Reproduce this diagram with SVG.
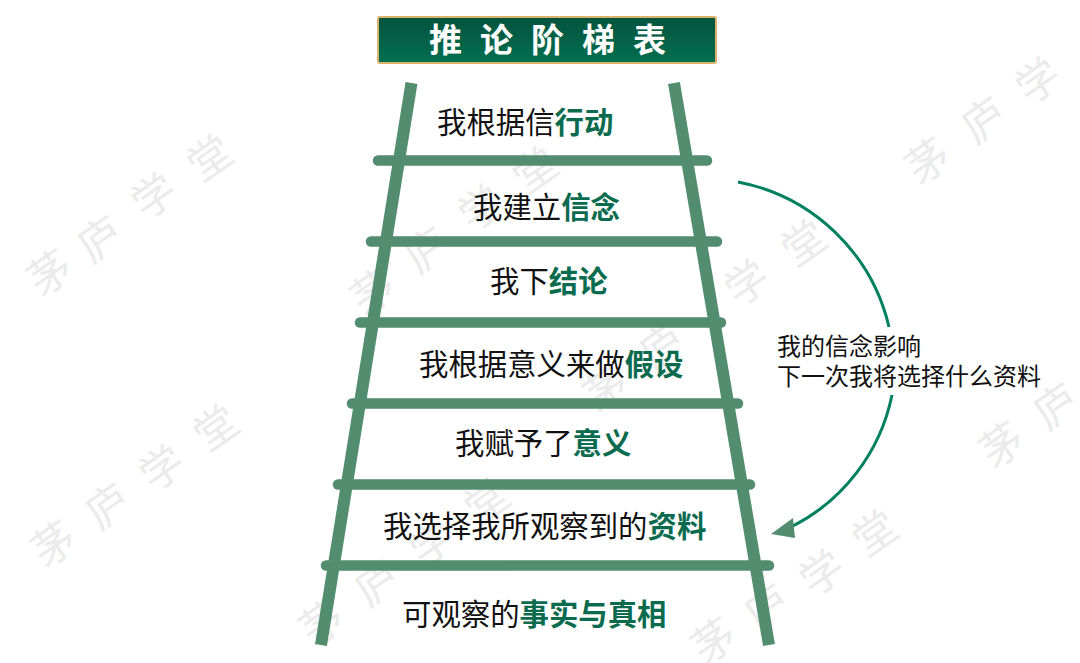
<svg xmlns="http://www.w3.org/2000/svg" width="1080" height="663" viewBox="0 0 1080 663">
<style>
text{font-family:"Noto Sans CJK SC","Noto Sans",sans-serif}
.wm{font-size:43px;fill:#ebebeb;font-weight:400;text-anchor:middle;dominant-baseline:central}
.rail{stroke:#538d6f;stroke-width:12;fill:none}
.rung{stroke:#538d6f;stroke-width:10.5;stroke-linecap:round;fill:none}
.lab{font-size:29.4px;fill:#111}
.em{font-weight:700;fill:#0b6b4f}
.note{font-size:24px;fill:#111}
.arc{stroke:#008060;stroke-width:3;fill:none}
</style>
<defs>
<linearGradient id="g" x1="0" y1="0" x2="0" y2="1"><stop offset="0" stop-color="#03533d"/><stop offset="1" stop-color="#046f50"/></linearGradient>
</defs>
<rect width="1080" height="663" fill="#fff"/>
<g id="watermark" transform="translate(-4,-2)">
<g id="wm1"><text class="wm" transform="translate(52,272) rotate(-35)">茅</text><text class="wm" transform="translate(102,238) rotate(-35)">庐</text><text class="wm" transform="translate(156,195) rotate(-35)">学</text><text class="wm" transform="translate(212,157) rotate(-35)">堂</text></g>
<g id="wm2"><text class="wm" transform="translate(375,291) rotate(-35)">茅</text><text class="wm" transform="translate(429,249) rotate(-35)">庐</text><text class="wm" transform="translate(483,207) rotate(-35)">学</text><text class="wm" transform="translate(537,169) rotate(-35)">堂</text></g>
<g id="wm3"><text class="wm" transform="translate(930,160) rotate(-35)">茅</text><text class="wm" transform="translate(986,119) rotate(-35)">庐</text><text class="wm" transform="translate(1040,80) rotate(-35)">学</text></g>
<g id="wm4"><text class="wm" transform="translate(608,388) rotate(-35)">茅</text><text class="wm" transform="translate(664,345) rotate(-35)">庐</text><text class="wm" transform="translate(749,282) rotate(-35)">学</text><text class="wm" transform="translate(806,242) rotate(-35)">堂</text></g>
<g id="wm5"><text class="wm" transform="translate(56,543) rotate(-35)">茅</text><text class="wm" transform="translate(110,505) rotate(-35)">庐</text><text class="wm" transform="translate(164,467) rotate(-35)">学</text><text class="wm" transform="translate(218,427) rotate(-35)">堂</text></g>
<g id="wm6"><text class="wm" transform="translate(324,622) rotate(-35)">茅</text><text class="wm" transform="translate(379,582) rotate(-35)">庐</text><text class="wm" transform="translate(434,542) rotate(-35)">学</text><text class="wm" transform="translate(489,500) rotate(-35)">堂</text></g>
<g id="wm7"><text class="wm" transform="translate(716,640) rotate(-35)">茅</text><text class="wm" transform="translate(769,606) rotate(-35)">庐</text><text class="wm" transform="translate(824,572) rotate(-35)">学</text><text class="wm" transform="translate(877,532) rotate(-35)">堂</text></g>
<g id="wm8"><text class="wm" transform="translate(1004,444) rotate(-35)">茅</text><text class="wm" transform="translate(1058,405) rotate(-35)">庐</text></g>
</g>
<g id="connectors">
<path class="arc" d="M738 182A192 192 0 0 1 889 327"/>
<path class="arc" d="M892 395A190 190 0 0 1 791 527"/>
<polygon points="771,534 793,518 795,538" fill="#538d6f"/>
</g>
<g id="ladder">
<path class="rail" d="M411.5 83L321 645"/>
<path class="rail" d="M674 83L769 645"/>
<path class="rung" d="M378 160.5H707"/>
<path class="rung" d="M371 241.5H717"/>
<path class="rung" d="M360 322.5H721"/>
<path class="rung" d="M352 403.5H738"/>
<path class="rung" d="M338 484.5H750"/>
<path class="rung" d="M326 565.5H769"/>
</g>
<g id="title">
<rect x="378" y="17" width="338" height="46" rx="2" fill="url(#g)" stroke="#d9b36c" stroke-width="2"/>
<text x="429" y="52" font-size="33" font-weight="700" fill="#fff" letter-spacing="18">推论阶梯表</text>
</g>
<g id="step1"><text class="lab" x="437" y="133">我根据信<tspan class="em">行动</tspan></text></g>
<g id="step2"><text class="lab" x="473" y="218">我建立<tspan class="em">信念</tspan></text></g>
<g id="step3"><text class="lab" x="490" y="292">我下<tspan class="em">结论</tspan></text></g>
<g id="step4"><text class="lab" x="419" y="375">我根据意义来做<tspan class="em">假设</tspan></text></g>
<g id="step5"><text class="lab" x="455" y="454">我赋予了<tspan class="em">意义</tspan></text></g>
<g id="step6"><text class="lab" x="383" y="537">我选择我所观察到的<tspan class="em">资料</tspan></text></g>
<g id="step7"><text class="lab" x="402" y="625">可观察的<tspan class="em">事实与真相</tspan></text></g>
<g id="note"><text class="note" x="777" y="355">我的信念影响</text><text class="note" x="777" y="385">下一次我将选择什么资料</text></g>
</svg>
